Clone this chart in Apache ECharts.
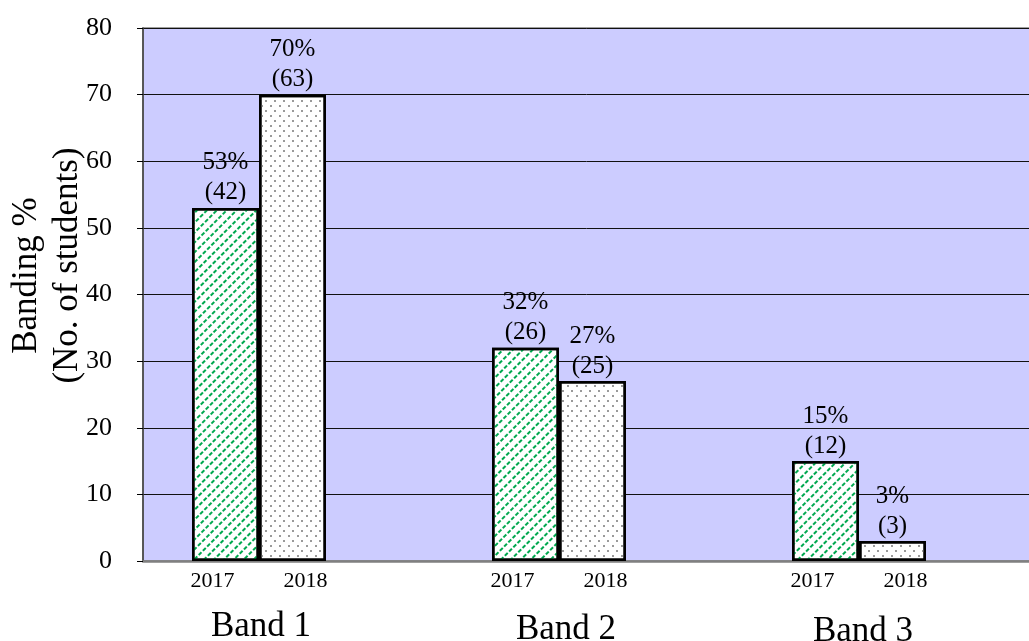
<!DOCTYPE html>
<html>
<head>
<meta charset="utf-8">
<script src="https://cdn.jsdelivr.net/npm/echarts@6/dist/echarts.min.js"></script>
<style>html,body{margin:0;padding:0;background:#fff}#c{width:1029px;height:641px}</style>
</head>
<body>
<div id="c"></div>
<script>
const categories = ['Band 1', 'Band 2', 'Band 3'];
const years = ['2017', '2018'];
const pct2017 = [53, 32, 15];
const cnt2017 = [42, 26, 12];
const pct2018 = [70, 27, 3];
const cnt2018 = [63, 25, 3];
const yMin = 0, yMax = 80, yStep = 10;
const yTitle1 = 'Banding %';
const yTitle2 = '(No. of students)';

const FONT = 'Liberation Serif';
const chart = echarts.init(document.getElementById('c'));

function valueLabel(pcts, cnts) {
  return {
    show: true,
    position: 'top',
    distance: 0,
    fontFamily: FONT,
    fontSize: 25,
    lineHeight: 30,
    color: '#000',
    formatter: p => pcts[p.dataIndex] + '%\n(' + cnts[p.dataIndex] + ')'
  };
}

const option = {
  animation: false,
  aria: { enabled: true, decal: { show: true } },
  textStyle: { fontFamily: FONT },
  grid: [
    { left: 143, right: -5, top: 28, bottom: 80, show: true, backgroundColor: '#CCCCFF',
      borderColor: '#808080', borderWidth: 1.5, outerBoundsMode: 'none', containLabel: false },
    { left: 109, width: 900, top: 28, bottom: 80, outerBoundsMode: 'none', containLabel: false }
  ],
  xAxis: [
    { gridIndex: 0, type: 'value', min: 0, max: 1,
      axisLine: { show: true, onZero: false, lineStyle: { color: '#808080', width: 2.5 } },
      axisTick: { show: false }, axisLabel: { show: false }, splitLine: { show: false } },
    { gridIndex: 1, type: 'category', data: categories,
      axisLine: { show: false }, axisTick: { show: false },
      axisLabel: {
        margin: 7,
        color: '#000',
        formatter: (v, i) => '{y|' + years[0] + '}{g|}{y|' + years[1] + '}\n{b' + i + '|' + v + '}',
        rich: {
          y: { fontFamily: FONT, fontSize: 22, lineHeight: 26, color: '#000' },
          g: { width: 49 },
          b0: { fontFamily: FONT, fontSize: 35, lineHeight: 44, color: '#000', padding: [21, 0, 0, 4] },
          b1: { fontFamily: FONT, fontSize: 35, lineHeight: 44, color: '#000', padding: [28, 0, 0, 14] },
          b2: { fontFamily: FONT, fontSize: 35, lineHeight: 44, color: '#000', padding: [32, 0, 0, 8] }
        }
      } }
  ],
  yAxis: [
    { gridIndex: 0, type: 'value', min: yMin, max: yMax, interval: yStep,
      axisLine: { show: true, lineStyle: { color: '#404040', width: 1.5 } },
      axisTick: { show: true, length: 6, lineStyle: { color: '#000' } },
      splitLine: { show: true, lineStyle: { color: '#111', width: 1 } },
      axisLabel: { margin: 31, fontFamily: FONT, fontSize: 26, color: '#000' },
      name: '{a|' + yTitle1 + '}\n{b|' + yTitle2 + '}',
      nameLocation: 'middle', nameRotate: 90, nameGap: 55, nameMoveOverlap: false,
      nameTextStyle: {
        padding: [0, 0, 0, 58],
        rich: {
          a: { fontFamily: FONT, fontSize: 35, lineHeight: 41, color: '#000', padding: [0, 20, 0, 0] },
          b: { fontFamily: FONT, fontSize: 35, lineHeight: 41, color: '#000' }
        }
      } },
    { gridIndex: 1, type: 'value', min: yMin, max: yMax, interval: yStep, show: false }
  ],
  series: [
    { name: years[0], type: 'bar', xAxisIndex: 1, yAxisIndex: 1, data: pct2017,
      barWidth: 67, barGap: '0%',
      itemStyle: { color: '#ffffff', borderColor: '#000', borderWidth: 2.5,
        decal: { symbol: 'rect', symbolSize: 1, color: '#00A84F',
          dashArrayX: [[4, 1.5]], dashArrayY: [1.6, 4.4], rotation: -Math.PI / 4 } },
      label: valueLabel(pct2017, cnt2017) },
    { name: years[1], type: 'bar', xAxisIndex: 1, yAxisIndex: 1, data: pct2018,
      barWidth: 67, barGap: '0%',
      itemStyle: { color: '#ffffff', borderColor: '#000', borderWidth: 2.5,
        decal: { symbol: 'rect', symbolSize: 1, color: '#9a9a9a',
          dashArrayX: [[1.6, 6.4], [0, 4, 1.6, 2.4]], dashArrayY: [1.6, 2.8], rotation: 0 } },
      label: valueLabel(pct2018, cnt2018) }
  ]
};
chart.setOption(option);
</script>
</body>
</html>
